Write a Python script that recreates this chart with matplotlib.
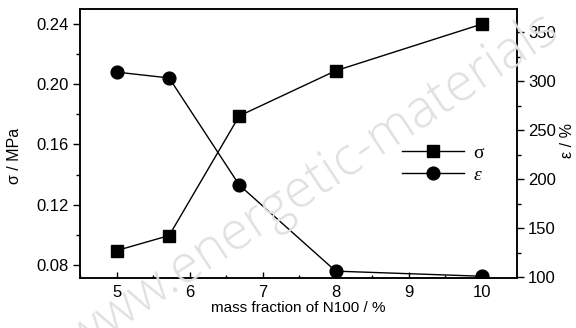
import matplotlib
matplotlib.use("Agg")
import matplotlib.pyplot as plt
from matplotlib.ticker import MultipleLocator

mass_fraction = [5.0, 5.72, 6.68, 8.0, 10.0]
sigma_mpa = [0.0895, 0.0995, 0.179, 0.209, 0.240]
epsilon_pct = [309.5, 303.5, 194.0, 106.0, 100.8]

x_ticks = [5, 6, 7, 8, 9, 10]
sigma_ticks = [0.08, 0.12, 0.16, 0.20, 0.24]
eps_ticks = [100, 150, 200, 250, 300, 350]

plt.rcParams['font.family'] = ['Liberation Sans', 'DejaVu Sans']

fig = plt.figure(figsize=(5.76, 3.28), dpi=100)
ax = fig.add_axes([80/576, 50/328, (517-80)/576, (278-9)/328])
ax2 = ax.twinx()

# watermark
fig.text(78/576, (328-356)/328, "www.energetic-materials", fontsize=38, color='#e0e0e0',
         family=['Open Sans', 'Liberation Sans'], fontweight='light',
         rotation=33.5, rotation_mode='anchor', ha='left', va='baseline', zorder=0)

l1, = ax.plot(mass_fraction, sigma_mpa, color='black', lw=1.0, marker='s',
              markersize=8.5, zorder=3)
l2, = ax2.plot(mass_fraction, epsilon_pct, color='black', lw=1.0, marker='o',
               markersize=9.2, zorder=3)

ax.set_xlim(4.5, 10.48)
ax.set_ylim(0.0713, 0.25)
ax2.set_ylim(99, 374)

ax.set_xticks(x_ticks)
ax.xaxis.set_minor_locator(MultipleLocator(0.5))
ax.set_yticks(sigma_ticks)
ax.set_yticklabels([f"{v:.2f}" for v in sigma_ticks])
ax.yaxis.set_minor_locator(MultipleLocator(0.02))
ax2.set_yticks(eps_ticks)
ax2.yaxis.set_minor_locator(MultipleLocator(25))

for a in (ax, ax2):
    for s in a.spines.values():
        s.set_linewidth(1.1)
ax.tick_params(axis='x', which='major', direction='in', length=4, width=1.0,
               labelsize=12, pad=5)
ax.tick_params(axis='x', which='minor', direction='in', length=2.5, width=1.0)
ax.tick_params(axis='y', which='major', direction='out', length=5, width=1.0,
               labelsize=12, pad=3)
ax.tick_params(axis='y', which='minor', direction='out', length=3, width=1.0)
ax2.tick_params(axis='y', which='major', direction='out', length=5, width=1.0,
                labelsize=12, pad=3)
ax2.tick_params(axis='y', which='minor', direction='out', length=3, width=1.0)

ax.set_xlabel("mass fraction of N100 / %", fontsize=11, labelpad=1)
ax.set_ylabel("σ / MPa", fontsize=11.5)
ax.yaxis.set_label_coords(-0.133, 0.455)
ax2.set_ylabel("ε / %", fontsize=11.5, rotation=90, va='center', ha='center')
ax2.yaxis.set_label_coords(1.115, 0.51)

leg = ax2.legend([l1, l2], ["σ", "ε"], loc='center left',
                 bbox_to_anchor=(384/576, (328-164)/328), bbox_transform=fig.transFigure,
                 frameon=False, handlelength=3.2, labelspacing=0.2, handletextpad=0.5,
                 prop={'family': 'Liberation Serif', 'size': 14})
leg.get_texts()[1].set_style('italic')

fig.savefig("out.png", dpi=100)
